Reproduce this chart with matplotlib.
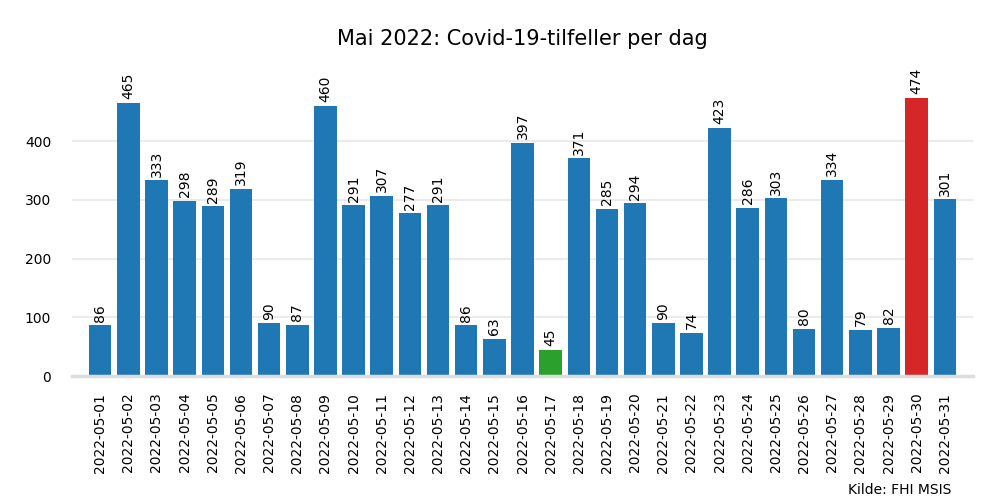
import matplotlib
matplotlib.use("Agg")
import matplotlib.pyplot as plt

# Covid-19 tilfeller per dag, mai 2022
datoer = [f"2022-05-{d:02d}" for d in range(1, 32)]
tilfeller = [86, 465, 333, 298, 289, 319, 90, 87, 460, 291, 307, 277, 291, 86, 63,
             397, 45, 371, 285, 294, 90, 74, 423, 286, 303, 80, 334, 79, 82, 474, 301]

# laveste = grønn, høyeste = rød
farger = ["#1f77b4"] * len(tilfeller)
farger[tilfeller.index(min(tilfeller))] = "#2ca02c"
farger[tilfeller.index(max(tilfeller))] = "#d62728"

fig, ax = plt.subplots(figsize=(10, 5), dpi=100)
fig.subplots_adjust(left=0.072, right=0.973, bottom=0.248, top=0.88)

x = list(range(len(datoer)))
bars = ax.bar(x, tilfeller, width=0.8, color=farger, zorder=3)
for xi, v in zip(x, tilfeller):
    ax.text(xi, v + 6, str(v), rotation=90, ha="center", va="bottom", fontsize=10)

ax.set_xticks(x)
ax.set_xticklabels(datoer, rotation=90, fontsize=10)
ax.set_yticks([0, 100, 200, 300, 400])
ax.tick_params(axis="y", length=0, pad=15)
ax.tick_params(axis="x", length=0, pad=12)
ax.set_xlim(-1.0, 31.0)
ax.set_ylim(0, 538)

ax.grid(axis="y", color="#ebebeb", linewidth=1.5, zorder=0)
for s in ["left", "right", "top"]:
    ax.spines[s].set_visible(False)
ax.spines["bottom"].set_color("#dddddd")
ax.spines["bottom"].set_linewidth(2.5)
ax.spines["bottom"].set_zorder(4)

ax.set_title("Mai 2022: Covid-19-tilfeller per dag", fontsize=15, pad=11)
fig.text(0.951, 0.02, "Kilde: FHI MSIS", ha="right", va="center", fontsize=10)

plt.savefig("out.png")
